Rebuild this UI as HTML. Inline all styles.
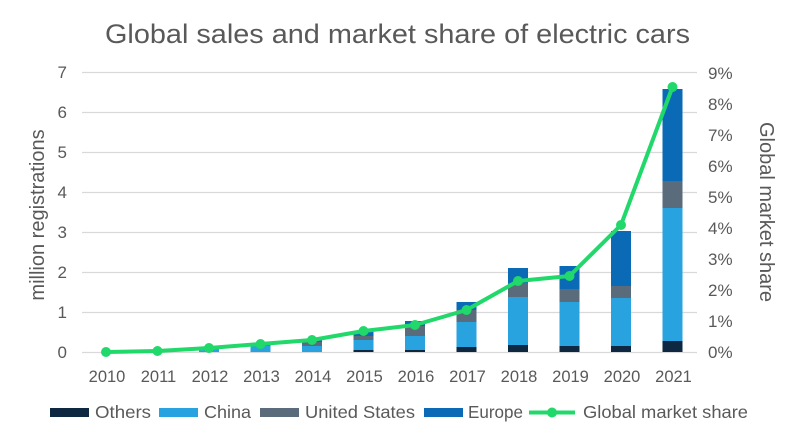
<!DOCTYPE html>
<html><head><meta charset="utf-8"><style>
body{margin:0;background:#fff;}
svg{display:block;font-family:"Liberation Sans",Arial,sans-serif;}
</style></head><body>
<svg width="800" height="444" viewBox="0 0 800 444">
<text x="105" y="43" font-size="27" fill="#595959" textLength="585" lengthAdjust="spacingAndGlyphs">Global sales and market share of electric cars</text>
<g stroke="#d9d9d9" stroke-width="1.3">
<line x1="82" x2="697" y1="352.5" y2="352.5"/>
<line x1="82" x2="697" y1="312.5" y2="312.5"/>
<line x1="82" x2="697" y1="272.5" y2="272.5"/>
<line x1="82" x2="697" y1="232.5" y2="232.5"/>
<line x1="82" x2="697" y1="192.5" y2="192.5"/>
<line x1="82" x2="697" y1="152.5" y2="152.5"/>
<line x1="82" x2="697" y1="112.5" y2="112.5"/>
<line x1="82" x2="697" y1="72.5" y2="72.5"/>
</g>
<g font-size="17" fill="#595959" text-anchor="end">
<text x="67" y="358">0</text><text x="67" y="318">1</text><text x="67" y="278">2</text><text x="67" y="238">3</text><text x="67" y="198">4</text><text x="67" y="158">5</text><text x="67" y="118">6</text><text x="67" y="78">7</text>
</g>
<g font-size="17" fill="#595959">
<text x="708" y="358">0%</text><text x="708" y="327">1%</text><text x="708" y="296">2%</text><text x="708" y="265">3%</text><text x="708" y="234">4%</text><text x="708" y="203">5%</text><text x="708" y="172">6%</text><text x="708" y="141">7%</text><text x="708" y="110">8%</text><text x="708" y="79">9%</text>
</g>
<text transform="translate(44,215) rotate(-90)" text-anchor="middle" font-size="20" fill="#595959">million registrations</text>
<text transform="translate(760,212) rotate(90)" text-anchor="middle" font-size="20" fill="#595959">Global market share</text>
<g font-size="16.5" fill="#595959" text-anchor="middle">
<text x="107" y="382">2010</text><text x="158.5" y="382">2011</text><text x="210" y="382">2012</text><text x="261.5" y="382">2013</text><text x="313" y="382">2014</text><text x="364.5" y="382">2015</text><text x="416" y="382">2016</text><text x="467.5" y="382">2017</text><text x="519" y="382">2018</text><text x="570.5" y="382">2019</text><text x="622" y="382">2020</text><text x="673.5" y="382">2021</text>
</g>
<g>
<rect x="199" y="349" width="20" height="3" fill="#29a3df"/>
<rect x="250.5" y="346" width="20" height="6" fill="#29a3df"/><rect x="250.5" y="344" width="20" height="2" fill="#5a6b7b"/>
<rect x="302" y="346" width="20" height="6" fill="#29a3df"/><rect x="302" y="342" width="20" height="4" fill="#5a6b7b"/><rect x="302" y="339" width="20" height="3" fill="#0a6ab6"/>
<rect x="353.5" y="350" width="20" height="2" fill="#0e2841"/><rect x="353.5" y="340" width="20" height="10" fill="#29a3df"/><rect x="353.5" y="336" width="20" height="4" fill="#5a6b7b"/><rect x="353.5" y="331" width="20" height="5" fill="#0a6ab6"/>
<rect x="405" y="350" width="20" height="2" fill="#0e2841"/><rect x="405" y="336" width="20" height="14" fill="#29a3df"/><rect x="405" y="326" width="20" height="10" fill="#5a6b7b"/><rect x="405" y="321" width="20" height="5" fill="#0a6ab6"/>
<rect x="456.5" y="347" width="20" height="5" fill="#0e2841"/><rect x="456.5" y="322" width="20" height="25" fill="#29a3df"/><rect x="456.5" y="310" width="20" height="12" fill="#5a6b7b"/><rect x="456.5" y="302" width="20" height="8" fill="#0a6ab6"/>
<rect x="508" y="345" width="20" height="7" fill="#0e2841"/><rect x="508" y="297" width="20" height="48" fill="#29a3df"/><rect x="508" y="283" width="20" height="14" fill="#5a6b7b"/><rect x="508" y="268" width="20" height="15" fill="#0a6ab6"/>
<rect x="559.5" y="346" width="20" height="6" fill="#0e2841"/><rect x="559.5" y="302" width="20" height="44" fill="#29a3df"/><rect x="559.5" y="289" width="20" height="13" fill="#5a6b7b"/><rect x="559.5" y="266" width="20" height="23" fill="#0a6ab6"/>
<rect x="611" y="346" width="20" height="6" fill="#0e2841"/><rect x="611" y="298" width="20" height="48" fill="#29a3df"/><rect x="611" y="286" width="20" height="12" fill="#5a6b7b"/><rect x="611" y="231" width="20" height="55" fill="#0a6ab6"/>
<rect x="662.5" y="341" width="20" height="11" fill="#0e2841"/><rect x="662.5" y="208" width="20" height="133" fill="#29a3df"/><rect x="662.5" y="181" width="20" height="27" fill="#5a6b7b"/><rect x="662.5" y="89" width="20" height="92" fill="#0a6ab6"/>
</g>
<polyline fill="none" stroke="#21d86a" stroke-width="4" stroke-linejoin="round" points="106,352 157.5,351 209,348 260.5,344 312,340 363.5,331 415,325 466.5,310 518,281 569.5,276 621,225 672.5,87"/>
<g fill="#21d86a">
<circle cx="106" cy="352" r="5"/><circle cx="157.5" cy="351" r="5"/><circle cx="209" cy="348" r="5"/><circle cx="260.5" cy="344" r="5"/><circle cx="312" cy="340" r="5"/><circle cx="363.5" cy="331" r="5"/><circle cx="415" cy="325" r="5"/><circle cx="466.5" cy="310" r="5"/><circle cx="518" cy="281" r="5"/><circle cx="569.5" cy="276" r="5"/><circle cx="621" cy="225" r="5"/><circle cx="672.5" cy="87" r="5"/>
</g>
<g font-size="17.5" fill="#595959">
<rect x="50" y="408" width="39" height="9" fill="#0e2841"/><text x="95" y="418" textLength="56" lengthAdjust="spacingAndGlyphs">Others</text>
<rect x="159" y="408" width="39" height="9" fill="#29a3df"/><text x="204" y="418" textLength="47" lengthAdjust="spacingAndGlyphs">China</text>
<rect x="260" y="408" width="39" height="9" fill="#5a6b7b"/><text x="305" y="418" textLength="110" lengthAdjust="spacingAndGlyphs">United States</text>
<rect x="424" y="408" width="39" height="9" fill="#0a6ab6"/><text x="468" y="418" textLength="55" lengthAdjust="spacingAndGlyphs">Europe</text>
<line x1="529" x2="575" y1="412.5" y2="412.5" stroke="#21d86a" stroke-width="4"/><circle cx="552" cy="412.5" r="5" fill="#21d86a"/><text x="583" y="418" textLength="165" lengthAdjust="spacingAndGlyphs">Global market share</text>
</g>
</svg>
</body></html>
